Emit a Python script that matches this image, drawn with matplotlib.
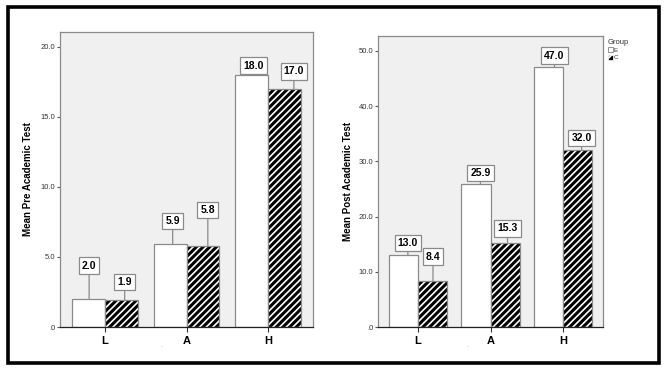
import matplotlib
matplotlib.use("Agg")
import matplotlib.pyplot as plt
from matplotlib.patches import Rectangle, Patch
from matplotlib.transforms import offset_copy

plt.rcParams['font.family'] = ['Liberation Sans', 'DejaVu Sans']
plt.rcParams['hatch.linewidth'] = 1.2

# ---- data ----
categories = ["L", "A", "H"]
groups = ["E", "C"]
pre_E = [2.0, 5.9, 18.0]
pre_C = [1.9, 5.8, 17.0]
post_E = [13.0, 25.9, 47.0]
post_C = [8.4, 15.3, 32.0]
pre_ylabel = "Mean Pre Academic Test"
post_ylabel = "Mean Post Academic Test"
pre_yticks = [0, 5, 10, 15, 20]
pre_yticklabels = [".0", "5.0", "10.0", "15.0", "20.0"]
post_yticks = [0, 10, 20, 30, 40, 50]
post_yticklabels = [".0", "10.0", "20.0", "30.0", "40.0", "50.0"]

# label box offsets (points) for E-L, C-L, E-A, C-A, E-H, C-H
pre_label_dx = [0.4, 2.5, 1.8, 3.6, 1.1, 6.8]
pre_label_dy = [24.1, 13.3, 16.6, 25.6, 6.8, 12.6]
post_label_dx = [3.2, 0.4, 3.2, 1.8, 4.3, 2.9]
post_label_dy = [8.6, 17.3, 7.9, 10.1, 8.6, 9.0]

W, H = 669, 372
fig = plt.figure(figsize=(W / 100, H / 100), dpi=100)
fig.patch.set_facecolor("white")

EDGE = "#8a8a8a"
BG = "#f0f0f0"


def px_axes(x0, y0, x1, y1):
    return fig.add_axes([x0 / W, 1 - y1 / H, (x1 - x0) / W, (y1 - y0) / H])


def draw_panel(ax, e_vals, c_vals, ylim_top, yticks, yticklabels, ylabel,
               label_dx, label_dy, ylabel_x):
    x = list(range(len(categories)))
    w = 0.4
    xe = [i - w / 2 for i in x]
    xc = [i + w / 2 for i in x]
    ax.set_facecolor(BG)
    ax.bar(xe, e_vals, width=w, facecolor="white", edgecolor=EDGE, linewidth=0.9, zorder=2)
    ax.bar(xc, c_vals, width=w, facecolor="black", edgecolor="white", hatch="/////",
           linewidth=0, zorder=2)
    ax.bar(xc, c_vals, width=w, fill=False, edgecolor=EDGE, linewidth=0.9, zorder=3)
    ax.set_xlim(-0.55, 2.55)
    ax.set_ylim(0, ylim_top)
    ax.set_yticks(yticks)
    ax.set_yticklabels(yticklabels)
    ax.set_xticks(x)
    ax.set_xticklabels(categories, fontweight="bold", fontsize=8)
    ax.tick_params(axis="y", length=2.5, width=0.8, color="#555555", labelsize=5.5,
                   labelcolor="#333333", pad=1)
    ax.tick_params(axis="x", length=3.6, width=0.8, color="#333333", pad=3)
    for s in ["top", "right", "left"]:
        ax.spines[s].set_color(EDGE)
        ax.spines[s].set_linewidth(0.9)
    ax.spines["bottom"].set_color("#222222")
    ax.spines["bottom"].set_linewidth(0.9)
    ax.set_ylabel(ylabel, fontweight="bold", fontsize=7)
    ax.yaxis.set_label_coords(ylabel_x, 0.5)

    xs = []
    vals = []
    for i in x:
        xs += [xe[i], xc[i]]
        vals += [e_vals[i], c_vals[i]]
    for k, (xx, v) in enumerate(zip(xs, vals)):
        tr_a = offset_copy(ax.transData, fig=fig, x=label_dx[k], y=0, units="points")
        tr_t = offset_copy(ax.transData, fig=fig, x=label_dx[k], y=label_dy[k], units="points")
        ax.annotate(f"{v:.1f}", xy=(xx, v), xycoords=tr_a,
                    xytext=(xx, v), textcoords=tr_t,
                    ha="center", va="center", fontsize=7.5, fontweight="bold",
                    bbox=dict(boxstyle="square,pad=0.3", fc="white", ec=EDGE, lw=0.9),
                    arrowprops=dict(arrowstyle="-", color=EDGE, lw=0.9,
                                    shrinkA=0, shrinkB=0),
                    zorder=4)


ax1 = px_axes(60, 32, 313, 327)
draw_panel(ax1, pre_E, pre_C, 21.07, pre_yticks, pre_yticklabels, pre_ylabel,
           pre_label_dx, pre_label_dy, -27 / 253)

ax2 = px_axes(378, 36, 603, 327)
draw_panel(ax2, post_E, post_C, 52.7, post_yticks, post_yticklabels, post_ylabel,
           post_label_dx, post_label_dy, -25 / 225)

handles = [Patch(facecolor="white", edgecolor="#666666", linewidth=0.5),
           Patch(facecolor="black", edgecolor="white", hatch="///", linewidth=0.5)]
leg = ax2.legend(handles, groups, title="Group", loc="upper left",
                 bbox_to_anchor=(1.01, 1.0), frameon=False, fontsize=4.5,
                 title_fontsize=5.5, handlelength=0.8, handleheight=0.8,
                 handletextpad=0.15, labelspacing=0.3, borderpad=0.2,
                 borderaxespad=0.2, alignment="left")
leg.get_title().set_color("#333333")
for t in leg.get_texts():
    t.set_color("#333333")

# tiny gray marks below the axes
fig.text(162 / W, 1 - 347 / H, "-", fontsize=4, color="#aaaaaa", ha="center", va="center")
fig.text(468 / W, 1 - 347 / H, "-", fontsize=4, color="#aaaaaa", ha="center", va="center")

# outer black frame
fig.patches.append(Rectangle((7.5 / W, 1 - 362.5 / H), (659 - 7.5) / W, (362.5 - 6.5) / H,
                             transform=fig.transFigure, fill=False, ec="black", lw=2.6))

fig.savefig("out.png", dpi=100)
